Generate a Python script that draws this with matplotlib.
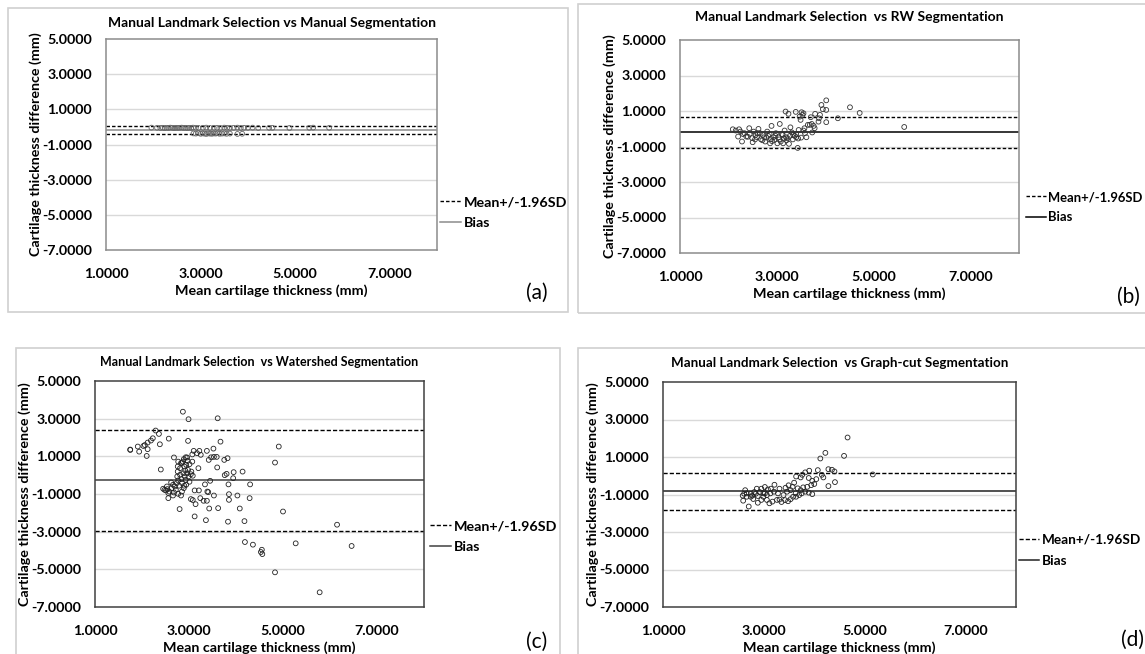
import numpy as np
import matplotlib
matplotlib.use("Agg")
import matplotlib.pyplot as plt
from matplotlib.lines import Line2D
from matplotlib.patches import Rectangle

plt.rcParams['font.family'] = ['Lato', 'DejaVu Sans']

W, H = 1145, 654

# ---- data ----
# (a) manual landmark vs manual segmentation
a_x = [1.96, 2.08, 2.15, 2.2, 2.24, 2.28, 2.32, 2.36, 2.4, 2.44, 2.48, 2.52, 2.56, 2.6,
       2.64, 2.68, 2.72, 2.76, 2.8, 2.84, 2.9, 2.96, 3.05, 3.12, 3.2, 3.28, 3.35, 3.42,
       3.5, 3.56, 3.62, 3.7, 3.78, 3.85, 3.92, 4.0, 4.1, 4.22, 4.45, 4.52, 4.88, 5.3,
       5.38, 5.72,
       2.85, 2.9, 2.95, 3.0, 3.04, 3.08, 3.12, 3.16, 3.2, 3.24, 3.28, 3.32, 3.36, 3.4,
       3.45, 3.5, 3.55, 3.62, 3.78, 3.88]
a_y = [-0.04, -0.05, -0.06, -0.05, -0.07, -0.05, -0.06, -0.04, -0.05, -0.07, -0.05, -0.06,
       -0.05, -0.04, -0.06, -0.05, -0.07, -0.05, -0.06, -0.04, -0.05, -0.06, -0.05, -0.04,
       -0.06, -0.05, -0.05, -0.06, -0.04, -0.05, -0.06, -0.05, -0.04, -0.06, -0.05, -0.05,
       -0.04, -0.06, -0.05, -0.05, -0.06, -0.05, -0.04, -0.05,
       -0.37, -0.38, -0.36, -0.39, -0.37, -0.38, -0.4, -0.37, -0.38, -0.39, -0.37, -0.38,
       -0.36, -0.39, -0.38, -0.37, -0.39, -0.38, -0.4, -0.39]
a_bias, a_lo, a_hi = -0.17, -0.39, 0.05

# (b) manual landmark vs RW segmentation
b_x = [2.09, 2.22, 2.28, 2.20, 2.25, 2.33, 2.37, 2.43, 2.44, 2.49, 2.50, 2.52, 2.56, 2.59,
       2.62, 2.65, 2.67, 2.71, 2.74, 2.76, 2.80, 2.82, 2.86, 2.88, 2.89, 2.93, 2.95, 2.98,
       3.01, 3.04, 3.06, 3.08, 3.12, 3.13, 3.16, 3.18, 3.19, 3.22, 3.24, 3.25, 3.28, 3.31,
       3.34, 3.37, 3.39, 3.40, 3.43, 3.45, 3.47, 3.49, 3.51, 3.53, 3.55, 3.57, 3.58, 3.61,
       3.64, 3.68, 3.70, 3.72, 3.73, 3.76, 3.78, 3.79, 3.86, 3.87, 3.89, 3.92, 3.95, 4.02,
       4.02, 4.02, 4.26, 4.51, 4.71, 5.63,
       2.15, 2.30, 2.40, 2.55, 2.60, 2.70, 2.78, 2.85, 2.90, 2.97, 3.05, 3.10, 3.15, 3.20,
       3.27, 3.33, 3.40, 3.44, 3.50, 3.55]
b_y = [-0.03, -0.03, -0.72, -0.44, -0.16, -0.25, -0.44, 0.03, -0.29, -0.53, -0.76, -0.16,
       -0.35, -0.48, -0.01, -0.25, -0.59, -0.35, -0.48, -0.72, -0.16, -0.40, -0.82, -0.59,
       0.16, -0.48, -0.63, -0.25, -0.82, -0.48, 0.27, -0.72, -0.35, -0.82, -0.10, 0.97,
       -0.48, -0.53, 0.84, -0.85, 0.08, -0.21, -0.35, -0.40, 0.95, -0.48, -1.08, -0.07,
       0.68, 0.50, 0.93, 0.78, 0.87, 0.03, -0.25, -0.48, 0.22, 0.22, 0.65, 0.27, -0.21,
       0.16, 0.03, 0.84, 0.40, 0.59, 0.78, 1.34, 1.10, 1.60, 1.06, 0.37, 0.59, 1.21, 0.89,
       0.10,
       -0.10, -0.30, -0.45, -0.60, -0.25, -0.65, -0.50, -0.30, -0.70, -0.40, -0.60, -0.30,
       -0.55, -0.65, -0.40, -0.60, -0.30, -0.55, -0.50, -0.10]
b_bias, b_lo, b_hi = -0.2, -1.07, 0.68

# (c) manual landmark vs watershed segmentation
c_x = [1.75, 1.75, 1.91, 1.94, 2.03, 2.06, 2.12, 2.12, 2.10, 2.19, 2.23, 2.29, 2.36, 2.38,
       2.40, 2.57, 2.87, 2.99, 3.61, 2.98, 3.67, 3.52, 3.38, 3.10, 3.22, 3.25, 3.17, 3.07,
       2.96, 2.68, 3.42, 3.47, 3.53, 3.59, 3.75, 3.82, 3.20, 3.60, 4.83, 4.91, 3.95, 4.14,
       3.76, 3.80, 3.94, 3.45, 3.34, 3.84, 4.30, 3.39, 3.41, 3.21, 3.12, 3.53, 3.85, 4.03,
       3.24, 3.31, 3.38, 3.04, 3.08, 3.14, 4.29, 3.85, 3.43, 3.62, 4.08, 5.00, 3.12, 3.36,
       3.83, 4.18, 6.15, 2.80, 4.19, 4.36, 5.27, 6.46, 4.55, 4.53, 4.56, 4.83, 5.78,
       2.45, 2.48, 2.51, 2.54, 2.58, 2.62, 2.63, 2.66, 2.68, 2.70, 2.72, 2.74, 2.75, 2.76,
       2.77, 2.79, 2.81, 2.81, 2.83, 2.84, 2.85, 2.87, 2.88, 2.89, 2.90, 2.91, 2.92, 2.93,
       2.94, 2.94, 2.96, 2.97, 2.98, 2.99, 3.01, 3.01, 3.04, 3.05, 3.07, 3.08, 2.83, 2.77,
       2.66, 2.56, 2.53, 2.85, 2.90, 2.76, 2.77, 2.85, 2.93, 2.89, 2.56]
c_y = [1.34, 1.36, 1.52, 1.25, 1.55, 1.60, 1.73, 1.38, 1.02, 1.84, 1.96, 2.37, 2.19, 1.64,
       0.30, 1.94, 3.37, 2.97, 3.02, 1.82, 1.78, 1.41, 1.29, 1.29, 1.29, 1.08, 1.17, 1.10,
       0.94, 0.94, 0.81, 0.95, 0.97, 0.97, 0.81, 0.90, 0.37, 0.41, 0.67, 1.52, 0.16, 0.19,
       0.00, 0.07, -0.16, -0.30, -0.49, -0.49, -0.49, -0.87, -0.90, -0.81, -0.81, -1.08,
       -1.01, -1.08, -1.22, -1.36, -1.36, -1.27, -1.32, -1.54, -1.22, -1.31, -1.77, -1.75,
       -1.77, -1.93, -2.19, -2.39, -2.47, -2.44, -2.63, -1.80, -3.55, -3.69, -3.62, -3.76,
       -3.96, -4.08, -4.19, -5.16, -6.22,
       -0.72, -0.78, -0.81, -0.74, -0.87, -0.39, -0.69, -0.51, -0.92, -0.60, -0.78, -0.42,
       -0.07, 0.19, -0.28, -0.56, 0.02, 0.37, 0.64, -0.21, -0.42, 0.72, 0.10, -0.69, 0.46,
       -0.07, 0.25, -0.25, -0.51, 0.55, 0.10, 0.76, 0.28, -0.07, 0.58, -0.35, 0.05, 0.19,
       0.72, -0.03, -1.08, -0.99, -1.08, -0.95, -0.60, -0.87, -0.56, 0.46, 0.72, 0.67,
       0.95, 0.85, -1.22]
c_bias, c_lo, c_hi = -0.28, -2.97, 2.4

# (d) manual landmark vs graph-cut segmentation
d_x = [4.66, 4.22, 4.12, 4.59, 5.16, 4.28, 4.35, 4.40, 4.41, 4.28, 4.07, 3.90, 3.82, 3.76,
       3.64, 3.73, 3.89, 3.96, 4.00, 4.04, 4.15, 4.18, 3.94, 3.86, 3.60, 3.57, 3.49, 3.21,
       3.67, 3.78, 3.96, 3.89, 3.82, 3.75, 3.70, 3.63, 3.58, 3.53, 3.48, 3.42, 3.35, 3.31,
       3.39, 3.46, 3.53, 3.43, 3.31, 3.26, 3.17, 3.11, 3.06, 3.02, 2.99, 2.95, 2.92, 2.88,
       2.84, 2.81, 2.77, 2.74, 2.70, 2.66, 2.63, 2.61, 2.59, 2.58, 2.88, 2.95, 3.08, 3.13,
       3.20, 3.28, 2.86, 3.02, 3.14, 2.79, 3.06, 2.99, 2.66, 2.74, 3.64, 3.73]
d_y = [2.04, 1.22, 0.92, 1.06, 0.07, 0.35, 0.32, 0.23, -0.34, -0.55, 0.30, 0.27, 0.18, 0.05,
       -0.04, -0.09, -0.12, -0.27, -0.44, -0.18, 0.05, -0.09, -0.50, -0.59, -0.37, -0.59,
       -0.51, -0.48, -0.67, -0.62, -0.98, -0.90, -0.85, -0.94, -1.03, -0.94, -1.12, -1.25,
       -1.36, -1.30, -1.40, -1.27, -1.03, -0.85, -0.77, -0.64, -0.69, -1.29, -1.38, -1.47,
       -1.29, -0.94, -1.12, -0.69, -0.87, -1.08, -0.96, -0.87, -1.06, -0.96, -1.64, -1.12,
       -0.77, -0.96, -1.33, -1.06, -1.44, -1.29, -0.73, -0.94, -0.85, -0.94, -0.69, -0.60,
       -0.69, -1.24, -1.03, -0.94, -0.94, -1.12, -1.12, -0.77]
d_bias, d_lo, d_hi = -0.82, -1.81, 0.16

yticks = [5, 3, 1, -1, -3, -5, -7]
xticks = [1, 3, 5, 7]

FS = 10.3  # tick / axis label size


def px_axes(fig, l, t, r, b):
    return fig.add_axes([l / W, 1 - b / H, (r - l) / W, (b - t) / H])


def panel_box(fig, l, t, r, b):
    fig.add_artist(Rectangle((l / W, 1 - b / H), (r - l) / W, (b - t) / H,
                             transform=fig.transFigure, fill=False,
                             edgecolor="#d0d0d0", linewidth=1.2))


def bland_altman(fig, box, plot, title, title_y, title_fs, xs, ys, bias, lo, hi,
                 leg_xy, leg_fs, tag_xy, tag, frame_col, mk_col, bias_col, dash):
    panel_box(fig, *box)
    ax = px_axes(fig, *plot)
    ax.set_xlim(1, 8)
    ax.set_ylim(-7, 5)
    ax.set_yticks(yticks)
    ax.set_xticks(xticks)
    ax.set_yticklabels(["%.4f" % v for v in yticks], fontsize=FS, fontweight="bold")
    ax.set_xticklabels(["%.4f" % v for v in xticks], fontsize=FS, fontweight="bold")
    ax.tick_params(axis="y", length=0, pad=10)
    ax.tick_params(axis="x", length=0, pad=13)
    for y in yticks[1:-1]:
        ax.axhline(y, color="#d9d9d9", linewidth=1.0, zorder=0)
    for s in ax.spines.values():
        s.set_color(frame_col)
        s.set_linewidth(1.1)
    ax.scatter(xs, ys, s=12, facecolors="none", edgecolors=mk_col, linewidths=0.6, zorder=3)
    ax.axhline(hi, color="black", linestyle=dash, linewidth=1.0, zorder=2)
    ax.axhline(lo, color="black", linestyle=dash, linewidth=1.0, zorder=2)
    ax.axhline(bias, color=bias_col, linewidth=1.1, zorder=2)
    ax.set_xlabel("Mean cartilage thickness (mm)", fontsize=FS, fontweight="bold", labelpad=3)
    ax.set_ylabel("Cartilage thickness difference (mm)", fontsize=FS, fontweight="bold",
                  labelpad=0)
    cx = (plot[0] + plot[2]) / 2
    fig.text(cx / W, 1 - title_y / H, title, ha="center", va="center",
             fontsize=title_fs, fontweight="bold")
    handles = [Line2D([], [], color="black", linestyle=dash, linewidth=1.0),
               Line2D([], [], color=bias_col, linewidth=1.1)]
    fig.legend(handles, ["Mean+/-1.96SD", "Bias"], loc="upper left",
               bbox_to_anchor=(leg_xy[0] / W, 1 - leg_xy[1] / H), frameon=False,
               handlelength=1.5, handletextpad=0.2, labelspacing=0.65,
               prop={"size": leg_fs, "weight": "bold"}, borderpad=0, borderaxespad=0)
    fig.text(tag_xy[0] / W, 1 - tag_xy[1] / H, tag, ha="center", va="center", fontsize=15)
    return ax


fig = plt.figure(figsize=(W / 100, H / 100), dpi=100)

bland_altman(fig, (8, 8, 568, 312), (106, 39, 437, 250),
             "Manual Landmark Selection vs Manual Segmentation", 23, 10, a_x, a_y,
             a_bias, a_lo, a_hi, (440, 196), 10.3, (537, 293), "(a)",
             "#8c8c8c", "#666666", "#8c8c8c", (0, (2.5, 1.5)))
bland_altman(fig, (578, 4, 1160, 313), (680, 40, 1019, 253),
             "Manual Landmark Selection  vs RW Segmentation", 17, 10, b_x, b_y,
             b_bias, b_lo, b_hi, (1026, 191), 9.4, (1128, 297), "(b)",
             "#8c8c8c", "#333333", "black", (0, (2.5, 1.5)))
bland_altman(fig, (16, 348, 560, 670), (95, 381, 424, 607),
             "Manual Landmark Selection  vs Watershed Segmentation", 362, 9, c_x, c_y,
             c_bias, c_lo, c_hi, (430, 520), 10.3, (537, 642), "(c)",
             "#404040", "#222222", "#404040", (0, (3, 1.5)))
bland_altman(fig, (578, 348, 1160, 670), (663, 382, 1016, 607),
             "Manual Landmark Selection  vs Graph-cut Segmentation", 363, 9.6, d_x, d_y,
             d_bias, d_lo, d_hi, (1019, 534), 9.8, (1133, 640), "(d)",
             "#404040", "#222222", "#222222", (0, (3, 1.5)))

fig.savefig("out.png", dpi=100, facecolor="white")
